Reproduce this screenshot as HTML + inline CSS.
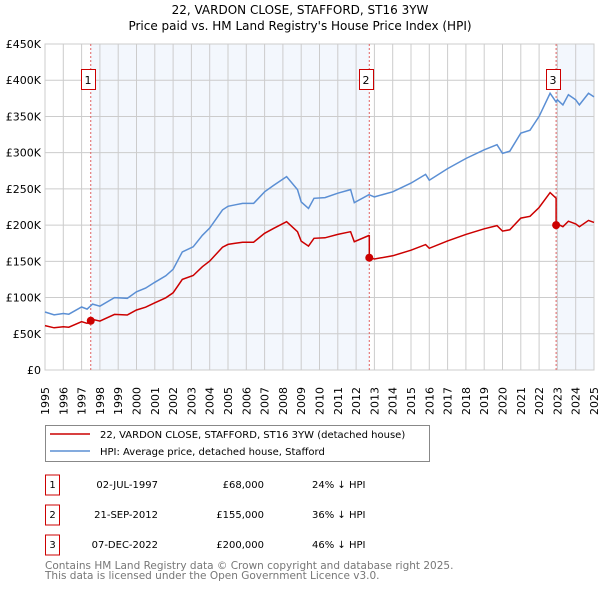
<!DOCTYPE html>
<html><head><meta charset="utf-8">
<style>
body{margin:0;width:600px;height:590px;background:#fff;font-family:"DejaVu Sans","Liberation Sans",sans-serif;overflow:hidden}
svg{position:absolute;left:0;top:0}
</style></head>
<body>
<svg id="c" width="600" height="590" xmlns="http://www.w3.org/2000/svg">
<text x="300" y="14" text-anchor="middle" font-size="12">22, VARDON CLOSE, STAFFORD, ST16 3YW</text>
<text x="300" y="30" text-anchor="middle" font-size="12">Price paid vs. HM Land Registry's House Price Index (HPI)</text>
<g id="plot"></g>
<g>
<rect x="45.5" y="425.5" width="384" height="36" fill="#fff" stroke="#888"/>
<line x1="50" y1="434" x2="90" y2="434" stroke="#cc0000" stroke-width="1.5"/>
<text x="100" y="438" font-size="10">22, VARDON CLOSE, STAFFORD, ST16 3YW (detached house)</text>
<line x1="50" y1="451" x2="90" y2="451" stroke="#5b8fd4" stroke-width="1.5"/>
<text x="100" y="455" font-size="10">HPI: Average price, detached house, Stafford</text>
</g>
<g id="table" font-size="10"></g>
<text x="45" y="569" font-size="10.5" fill="#777">Contains HM Land Registry data © Crown copyright and database right 2025.</text>
<text x="45" y="579" font-size="10.5" fill="#777">This data is licensed under the Open Government Licence v3.0.</text>
</svg>
<script>
const hpiYears=[1995,1995.5,1996,1996.3,1997,1997.3,1997.6,1998,1998.8,1999.5,2000,2000.5,2001,2001.6,2002,2002.5,2003.1,2003.6,2004,2004.7,2005,2005.4,2005.8,2006.4,2007,2007.5,2008.2,2008.8,2009,2009.4,2009.7,2010.3,2011,2011.7,2011.9,2012.7,2013,2014,2015,2015.8,2016,2017,2018,2019,2019.7,2020,2020.4,2021,2021.5,2022,2022.6,2022.93,2023,2023.3,2023.6,2024,2024.2,2024.7,2025];
const hpiValues=[80000,76000,78000,77000,87000,84000,91000,88000,100000,99000,108000,113000,121000,130000,139000,163000,170000,186000,196000,221000,226000,228000,230000,230000,246000,255000,267000,249000,232000,223000,237000,238000,244000,249000,231000,242000,239000,246000,258000,270000,262000,278000,292000,304000,311000,299000,302000,327000,331000,350000,382000,370000,373000,366000,380000,373000,366000,382000,377000];
const saleLabels=["1","2","3"];
const saleYears=[1997.5,2012.72,2022.93];
const saleDates=["02-JUL-1997","21-SEP-2012","07-DEC-2022"];
const salePrices=[68000,155000,200000];
const salePriceText=["£68,000","£155,000","£200,000"];
const salePct=["24% ↓ HPI","36% ↓ HPI","46% ↓ HPI"];
const yTicks=[0,50000,100000,150000,200000,250000,300000,350000,400000,450000];
const yTickLabels=["£0","£50K","£100K","£150K","£200K","£250K","£300K","£350K","£400K","£450K"];
const xTicks=[1995,1996,1997,1998,1999,2000,2001,2002,2003,2004,2005,2006,2007,2008,2009,2010,2011,2012,2013,2014,2015,2016,2017,2018,2019,2020,2021,2022,2023,2024,2025];

const NS="http://www.w3.org/2000/svg";
const X0=45,X1=594,Y0=370,Y1=44;
const xs=y=>X0+(y-1995)/30*(X1-X0);
const ys=v=>Y0-v/450000*(Y0-Y1);
const plot=document.getElementById('plot');
function mk(tag,attrs,parent){const e=document.createElementNS(NS,tag);for(const k in attrs)e.setAttribute(k,attrs[k]);(parent||plot).appendChild(e);return e;}
function hpiAt(t){for(let i=0;i<hpiYears.length-1;i++){if(t>=hpiYears[i]&&t<=hpiYears[i+1]){const f=(t-hpiYears[i])/(hpiYears[i+1]-hpiYears[i]);return hpiValues[i]+f*(hpiValues[i+1]-hpiValues[i]);}}return hpiValues[hpiValues.length-1];}

let r=mk('rect',{x:X0,y:Y1,width:X1-X0,height:Y0-Y1,fill:'#fff'});


const shades=[[saleYears[0],saleYears[1]],[saleYears[2],2025]];
shades.forEach(s=>{const e=mk('rect',{x:xs(s[0]),y:Y1,width:xs(s[1])-xs(s[0]),height:Y0-Y1,fill:'#eef3fc',opacity:0.7});

});
xTicks.forEach((t,i)=>{const l=mk('line',{x1:xs(t),x2:xs(t),y1:Y1,y2:Y0,stroke:'#ccc','stroke-width':1});


const tx=mk('text',{transform:`translate(${xs(t)+4},${Y0+45}) rotate(-90)`,'font-size':11});
tx.textContent=t;

});
yTicks.forEach((v,i)=>{const l=mk('line',{x1:X0,x2:X1,y1:ys(v),y2:ys(v),stroke:'#ccc','stroke-width':1});


const tx=mk('text',{x:X0-4,y:ys(v)+4,'text-anchor':'end','font-size':11});
tx.textContent=yTickLabels[i];

});
let b=mk('rect',{x:X0,y:Y1,width:X1-X0,height:Y0-Y1,fill:'none',stroke:'#ccc'});


saleYears.forEach((t,i)=>{const l=mk('line',{x1:xs(t),x2:xs(t),y1:Y1,y2:Y0,stroke:'#e06060','stroke-dasharray':'2,2','stroke-width':1});


const bx=mk('rect',{x:Math.round(xs(t)-10)+0.5,y:69.5,width:14,height:20,fill:'#fff',stroke:'#cc0000'});


const tx=mk('text',{x:Math.round(xs(t)-3),y:84,'text-anchor':'middle','font-size':11});
tx.textContent=saleLabels[i];

});
let d=hpiYears.map((t,i)=>(i?'L':'M')+xs(t).toFixed(1)+','+ys(hpiValues[i]).toFixed(1)).join('');
let p=mk('path',{d:d,fill:'none',stroke:'#5b8fd4','stroke-width':1.5});


const ratios=saleYears.map((t,i)=>salePrices[i]/hpiAt(t));
function seg(t){let k=0;for(let i=0;i<saleYears.length;i++)if(t>=saleYears[i])k=i;return k;}
let pts=[];
const times=[...hpiYears,...saleYears].sort((a,b)=>a-b);
times.forEach(t=>{const k=seg(t);
 saleYears.forEach((s,i)=>{if(i>0&&Math.abs(t-s)<1e-9){pts.push([t,hpiAt(t)*ratios[i-1]]);}});
 pts.push([t,hpiAt(t)*ratios[k]]);});
d=pts.map((q,i)=>(i?'L':'M')+xs(q[0]).toFixed(1)+','+ys(q[1]).toFixed(1)).join('');
p=mk('path',{d:d,fill:'none',stroke:'#cc0000','stroke-width':1.5});


saleYears.forEach((t,i)=>{const c=mk('circle',{cx:xs(t),cy:ys(salePrices[i]),r:4,fill:'#cc0000'});

});
const tbl=document.getElementById('table');
saleLabels.forEach((s,i)=>{const y=483+i*30;
 const bx=mk('rect',{x:45.5,y:y-8,width:14,height:20,fill:'#fff',stroke:'#cc0000'},tbl);
 
 
 const cells=[[52.5,'middle',s],[158,'end',saleDates[i]],[264,'end',salePriceText[i]],[312,'start',salePct[i]]];
 cells.forEach((c,j)=>{const tx=mk('text',{x:c[0],y:y+5,'text-anchor':c[1]},tbl);
  tx.textContent=c[2];
  
  });
});
</script>
</body></html>
